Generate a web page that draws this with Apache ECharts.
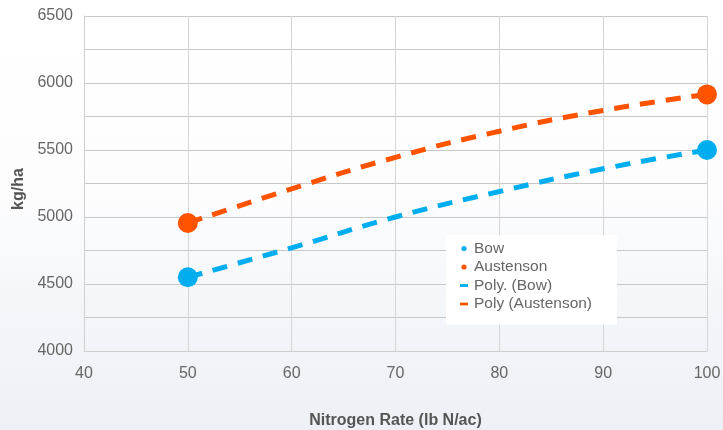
<!DOCTYPE html>
<html>
<head>
<meta charset="utf-8">
<script src="https://cdn.jsdelivr.net/npm/echarts@6/dist/echarts.min.js"></script>
<style>
  html, body { margin: 0; padding: 0; }
  #chart { width: 723px; height: 430px; }
</style>
</head>
<body>
<div id="chart"></div>
<script>
// Yield response to nitrogen rate, two varieties with polynomial trend lines
const xTicks = [40, 50, 60, 70, 80, 90, 100];
const yTicks = [4000, 4500, 5000, 5500, 6000, 6500];

const rates = [50, 100];
const bowYield = [4550, 5500];
const austensonYield = [4955, 5915];

const trendRates = [50, 60, 70, 80, 90, 100];
const bowTrend = [4550, 4770, 5000, 5190, 5360, 5500];
const austensonTrend = [4955, 5210, 5445, 5640, 5795, 5915];

const BLUE = '#00AEEF';
const ORANGE = '#FF5300';
const FONT = '"Liberation Sans", Arial, sans-serif';

const pair = (xs, ys) => xs.map((x, i) => [x, ys[i]]);

const dotIcon = 'path://M0,0M10,10M7.6,5A2.6,2.6,0,1,1,2.4,5A2.6,2.6,0,1,1,7.6,5Z';
const dashIcon = 'path://M0,0M10,10M1,3.6H9V6.4H1Z';

const chart = echarts.init(document.getElementById('chart'), null, { renderer: 'canvas' });

chart.setOption({
  animation: false,
  backgroundColor: {
    type: 'linear', x: 0, y: 0, x2: 0, y2: 1,
    colorStops: [
      { offset: 0, color: '#ffffff' },
      { offset: 0.45, color: '#fdfdfe' },
      { offset: 0.75, color: '#f2f5f9' },
      { offset: 1, color: '#edf0f5' }
    ]
  },
  textStyle: { fontFamily: FONT },
  grid: { left: 84, right: 16, top: 16, bottom: 79, containLabel: false, outerBoundsMode: 'none' },
  xAxis: {
    type: 'value',
    min: xTicks[0],
    max: xTicks[xTicks.length - 1],
    interval: 10,
    name: 'Nitrogen Rate (lb N/ac)',
    nameLocation: 'middle',
    nameGap: 62,
    nameTextStyle: { fontSize: 16, fontWeight: 'bold', color: '#555555', fontFamily: FONT },
    axisLine: { show: true, lineStyle: { color: '#cfcfcf', width: 1 } },
    axisTick: { show: false },
    axisLabel: { fontSize: 16, color: '#666666', margin: 15, fontFamily: FONT, formatter: v => String(v) },
    splitLine: { show: true, lineStyle: { color: '#d6d6d6', width: 1 } }
  },
  yAxis: {
    type: 'value',
    min: yTicks[0],
    max: yTicks[yTicks.length - 1],
    interval: 500,
    name: 'kg/ha',
    nameLocation: 'middle',
    nameRotate: 90,
    nameGap: 57,
    nameTextStyle: { fontSize: 16, fontWeight: 'bold', color: '#555555', fontFamily: FONT, padding: [0, 11, 0, 0] },
    axisLine: { show: true, lineStyle: { color: '#cfcfcf', width: 1 } },
    axisTick: { show: false },
    minorTick: { show: false, splitNumber: 2 },
    axisLabel: { fontSize: 16, color: '#666666', margin: 11, fontFamily: FONT, formatter: v => String(v) },
    splitLine: { show: true, lineStyle: { color: '#c8c8c8', width: 1 } },
    minorSplitLine: { show: true, lineStyle: { color: '#c8c8c8', width: 1 } }
  },
  legend: {
    orient: 'vertical',
    left: 446,
    top: 235,
    padding: [5, 25, 12, 13],
    backgroundColor: '#ffffff',
    itemWidth: 10,
    itemHeight: 10,
    itemGap: 1.5,
    textStyle: { fontSize: 15.5, color: '#666666', fontFamily: FONT, lineHeight: 17 },
    data: [
      { name: 'Bow', icon: dotIcon },
      { name: 'Austenson', icon: dotIcon },
      { name: 'Poly. (Bow)', icon: dashIcon },
      { name: 'Poly (Austenson)', icon: dashIcon }
    ]
  },
  series: [
    {
      name: 'Poly. (Bow)',
      type: 'line',
      smooth: true,
      showSymbol: false,
      data: pair(trendRates, bowTrend),
      itemStyle: { color: BLUE },
      lineStyle: { color: BLUE, width: 5, type: [15, 11] },
      z: 2
    },
    {
      name: 'Poly (Austenson)',
      type: 'line',
      smooth: true,
      showSymbol: false,
      data: pair(trendRates, austensonTrend),
      itemStyle: { color: ORANGE },
      lineStyle: { color: ORANGE, width: 5, type: [15, 11] },
      z: 2
    },
    {
      name: 'Bow',
      type: 'scatter',
      symbol: 'circle',
      symbolSize: 20,
      data: pair(rates, bowYield),
      itemStyle: { color: BLUE, opacity: 1 },
      z: 3
    },
    {
      name: 'Austenson',
      type: 'scatter',
      symbol: 'circle',
      symbolSize: 20,
      data: pair(rates, austensonYield),
      itemStyle: { color: ORANGE, opacity: 1 },
      z: 3
    }
  ]
});
</script>
</body>
</html>
